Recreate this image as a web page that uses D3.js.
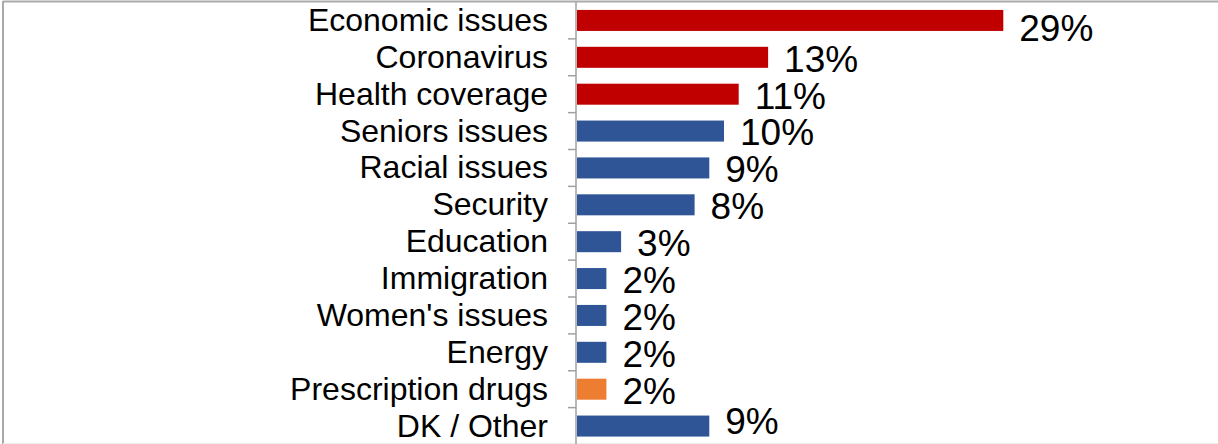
<!DOCTYPE html>
<html lang="en">

<head>
    <meta charset="UTF-8">
    <title>Issues</title>
    <script src="https://d3js.org/d3.v7.min.js"></script>
    <style>
        body { margin: 0; background: #fff; }
        svg { display: block; }
    </style>
</head>

<body>
    <script>
        var categories = ["Economic issues", "Coronavirus", "Health coverage", "Seniors issues", "Racial issues",
            "Security", "Education", "Immigration", "Women's issues", "Energy", "Prescription drugs", "DK / Other"];
        var values = [29, 13, 11, 10, 9, 8, 3, 2, 2, 2, 2, 9];
        var groups = ["top", "top", "top", "other", "other", "other", "other", "other", "other", "other", "rx", "other"];

        var width = 1218;
        var height = 444;

        var data = categories.map(function (c, i) {
            return { name: c, value: values[i], group: groups[i] };
        });

        var svg = d3.select("body").append("svg")
            .attr("width", width)
            .attr("height", height);

        // frame (top + left, faint bottom)
        svg.append("line").attr("x1", 3).attr("x2", width).attr("y1", 1.5).attr("y2", 1.5)
            .attr("stroke", "#a9a9a9").attr("stroke-width", 2);
        svg.append("line").attr("x1", 3).attr("x2", 3).attr("y1", 1).attr("y2", height)
            .attr("stroke", "#a9a9a9").attr("stroke-width", 2);
        svg.append("line").attr("x1", 3).attr("x2", width).attr("y1", 443.5).attr("y2", 443.5)
            .attr("stroke", "#ececec").attr("stroke-width", 1);

        var xScale = d3.scaleLinear()
            .domain([0, 30])
            .range([577, 1018]);

        var yScale = d3.scaleBand()
            .domain(categories)
            .range([2, 444.5])
            .paddingInner(0.43)
            .paddingOuter(0.215);

        var band = d3.scaleBand().domain(categories).range([2, 444.5]);

        var color = d3.scaleOrdinal()
            .domain(["top", "other", "rx"])
            .range(["#C00000", "#2F5597", "#ED7D31"]);

        // bars
        svg.selectAll("rect.bar")
            .data(data)
            .enter()
            .append("rect")
            .attr("class", "bar")
            .attr("x", xScale(0))
            .attr("y", function (d) { return yScale(d.name); })
            .attr("width", function (d) { return xScale(d.value) - xScale(0); })
            .attr("height", yScale.bandwidth())
            .attr("fill", function (d) { return color(d.group); });

        // axis line and ticks at band boundaries
        var axisX = 576;
        svg.append("line")
            .attr("x1", axisX).attr("x2", axisX)
            .attr("y1", 2).attr("y2", height)
            .attr("stroke", "#a0a0a0").attr("stroke-width", 1.5);

        svg.selectAll("line.tick")
            .data(categories.slice(1))
            .enter()
            .append("line")
            .attr("class", "tick")
            .attr("x1", axisX - 8).attr("x2", axisX)
            .attr("y1", function (d) { return band(d); })
            .attr("y2", function (d) { return band(d); })
            .attr("stroke", "#a0a0a0").attr("stroke-width", 1.5);

        // category labels
        svg.selectAll("text.cat")
            .data(data)
            .enter()
            .append("text")
            .attr("class", "cat")
            .attr("x", 548)
            .attr("y", function (d) { return yScale(d.name) + yScale.bandwidth() / 2; })
            .attr("dy", "0.33em")
            .attr("text-anchor", "end")
            .attr("font-family", "Liberation Sans, Arial, sans-serif")
            .attr("font-size", 32)
            .attr("fill", "#000")
            .text(function (d) { return d.name; });

        // value labels (first nudged down, last nudged up, like the original)
        var last = data.length - 1;
        svg.selectAll("text.val")
            .data(data)
            .enter()
            .append("text")
            .attr("class", "val")
            .attr("x", function (d) { return xScale(d.value) + 16; })
            .attr("y", function (d, i) {
                var off = i === 0 ? 7 : (i === last ? -5 : 1);
                return yScale(d.name) + yScale.bandwidth() / 2 + off;
            })
            .attr("dy", "0.36em")
            .attr("font-family", "Liberation Sans, Arial, sans-serif")
            .attr("font-size", 37)
            .attr("fill", "#000")
            .text(function (d) { return d.value + "%"; });
    </script>
</body>

</html>
